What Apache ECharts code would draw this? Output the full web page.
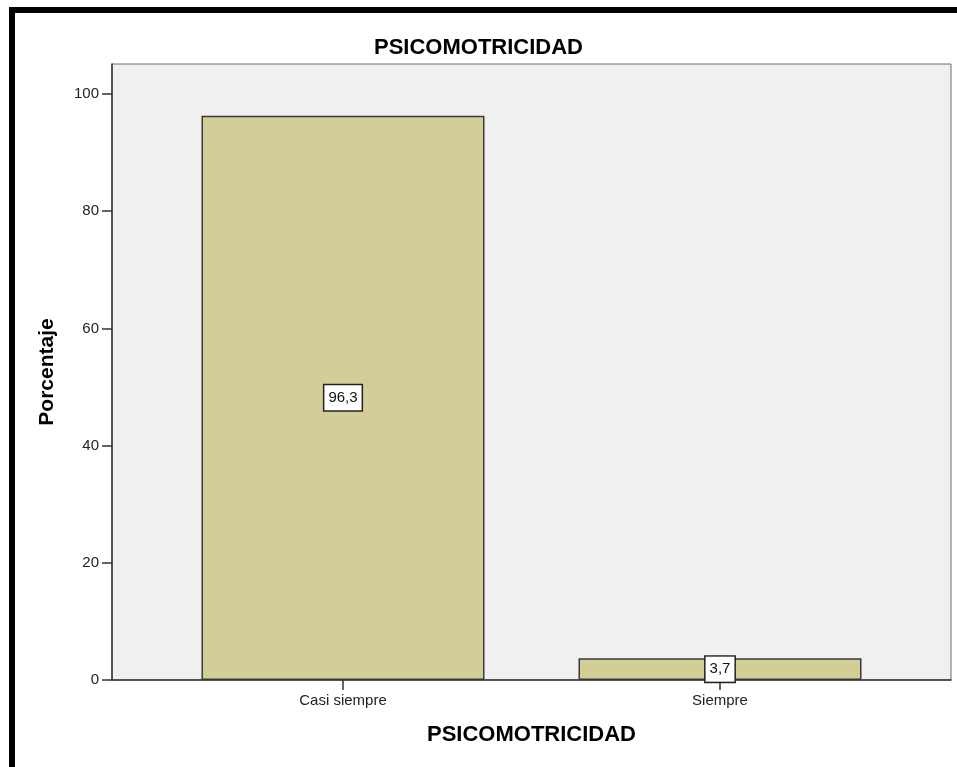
<!DOCTYPE html>
<html>
<head>
<meta charset="utf-8">
<script src="https://cdn.jsdelivr.net/npm/echarts@6/dist/echarts.min.js"></script>
<style>
  html, body { margin: 0; padding: 0; background: #ffffff; }
  #chart { width: 957px; height: 767px; }
</style>
</head>
<body>
<div id="chart"></div>
<script>
// Category names and their percentages
const categories = ['Casi siempre', 'Siempre'];
const percentages = [96.3, 3.7];
// Y axis tick values
const yTicks = [0, 20, 40, 60, 80, 100];

const titleText = 'PSICOMOTRICIDAD';
const xAxisTitle = 'PSICOMOTRICIDAD';
const yAxisTitle = 'Porcentaje';

const fontFamily = '"Liberation Sans", Arial, sans-serif';

// Bars sit on integer positions of a numeric x axis so the plot frame
// can extend a little past the outer category bands.
const barData = categories.map((c, i) => [i, percentages[i]]);

const chart = echarts.init(document.getElementById('chart'), null, { renderer: 'canvas' });

chart.setOption({
  animation: false,
  backgroundColor: '#ffffff',
  title: {
    text: titleText,
    left: 'center',
    top: 32,
    textStyle: { fontFamily, fontSize: 22, fontWeight: 'bold', color: '#000' }
  },
  grid: {
    left: 112, right: 6, top: 64, bottom: 87,
    show: true,
    backgroundColor: '#f0f0f0',
    borderColor: '#6e6e6e',
    borderWidth: 1
  },
  xAxis: {
    type: 'value',
    min: -0.6127,
    max: 1.6127,
    name: xAxisTitle,
    nameLocation: 'middle',
    nameGap: 44,
    nameTextStyle: { fontFamily, fontSize: 22, fontWeight: 'bold', color: '#000' },
    splitLine: { show: false },
    axisLine: { show: true, onZero: false, lineStyle: { color: '#333', width: 1.5 } },
    axisTick: { show: true, customValues: [0, 1], length: 10, lineStyle: { color: '#333', width: 1.5 } },
    axisLabel: {
      customValues: [0, 1],
      formatter: v => categories[Math.round(v)] || '',
      margin: 13,
      fontFamily, fontSize: 15, color: '#222'
    }
  },
  yAxis: {
    type: 'value',
    min: 0,
    max: 105.13,
    name: yAxisTitle,
    nameLocation: 'middle',
    nameGap: 54,
    nameTextStyle: { fontFamily, fontSize: 21, fontWeight: 'bold', color: '#000' },
    splitLine: { show: false },
    axisLine: { show: true, onZero: false, lineStyle: { color: '#333', width: 1.5 } },
    axisTick: { show: true, customValues: yTicks, length: 10, lineStyle: { color: '#333', width: 1.5 } },
    axisLabel: {
      customValues: yTicks,
      margin: 13,
      fontFamily, fontSize: 15, color: '#222'
    }
  },
  series: [{
    type: 'bar',
    data: barData,
    barWidth: 283,
    itemStyle: { color: '#d3ce97', borderColor: '#3a3a3a', borderWidth: 1.5 },
    emphasis: { disabled: true },
    label: {
      show: true,
      position: 'inside',
      formatter: p => p.value[1].toFixed(1).replace('.', ','),
      fontFamily, fontSize: 15, color: '#111',
      backgroundColor: '#ffffff',
      borderColor: '#222',
      borderWidth: 1.5,
      padding: [5, 4, 5, 4]
    }
  }],
  graphic: [
    // frame lines along the left and top edges of the figure
    { type: 'rect', left: 9, top: 7, shape: { width: 6, height: 760 }, style: { fill: '#000' }, z: 100 },
    { type: 'rect', left: 9, top: 7, shape: { width: 948, height: 6 }, style: { fill: '#000' }, z: 100 }
  ]
});
</script>
</body>
</html>
